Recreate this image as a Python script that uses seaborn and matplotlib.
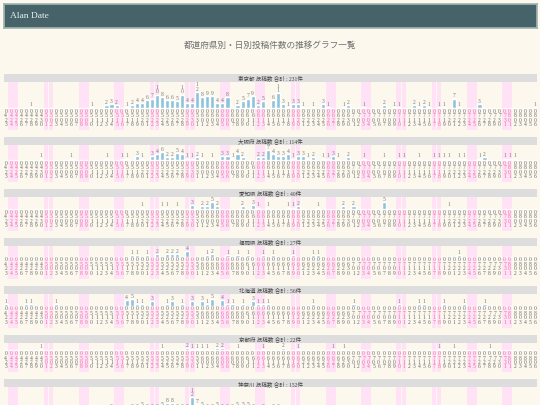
import pandas as pd
import matplotlib.pyplot as plt
import seaborn as sns

sns.set_theme(style="white")
plt.rcParams['font.family'] = ['Liberation Serif', 'Noto Sans CJK JP', 'DejaVu Sans']

# 2010-04-23 .. 2010-08-06, one value per day (rows = 7 days starting on Friday)
dias = pd.date_range("2010-04-23", "2010-08-06", freq="D")

titulo = "都道府県別・日別投稿件数の推移グラフ一覧"
nomes = ["東京都", "大阪府", "愛知県", "福岡県", "北海道", "京都府", "神奈川"]

p1 = [0, 0, 0, 0, 0, 1, 0,
      0, 0, 0, 0, 0, 0, 0,
      0, 0, 0, 1, 0, 0, 2,
      3, 2, 0, 1, 2, 4, 4,
      6, 7, 10, 8, 6, 6, 5,
      10, 4, 4, 12, 8, 9, 9,
      4, 4, 8, 0, 2, 5, 7,
      9, 2, 5, 0, 6, 11, 3,
      1, 3, 3, 1, 0, 1, 0,
      3, 1, 0, 0, 1, 2, 0,
      0, 1, 0, 0, 0, 2, 0,
      1, 1, 0, 0, 2, 1, 2,
      1, 0, 1, 1, 0, 7, 1,
      0, 0, 0, 3, 0, 0, 0,
      0, 0, 0, 0, 0, 0, 0,
      1]
p2 = [0, 0, 0, 0, 0, 0, 0,
      1, 0, 0, 0, 0, 0, 1,
      0, 0, 0, 0, 0, 0, 1,
      0, 0, 1, 1, 0, 3, 1,
      0, 3, 4, 6, 2, 2, 5,
      4, 1, 1, 2, 1, 0, 1,
      0, 3, 3, 1, 4, 2, 0,
      0, 2, 2, 7, 4, 3, 3,
      4, 1, 3, 3, 1, 2, 0,
      1, 1, 3, 1, 0, 2, 0,
      0, 1, 0, 0, 0, 1, 0,
      0, 1, 1, 0, 0, 1, 0,
      0, 1, 1, 1, 1, 0, 1,
      1, 0, 0, 1, 2, 0, 0,
      0, 1, 1, 1, 0, 0, 0,
      0]
p3 = [0, 0, 0, 0, 0, 0, 0,
      0, 0, 0, 0, 0, 0, 0,
      0, 0, 0, 0, 0, 0, 0,
      0, 0, 0, 0, 0, 0, 1,
      0, 0, 0, 1, 1, 0, 1,
      0, 0, 3, 0, 2, 2, 5,
      2, 0, 0, 0, 0, 2, 0,
      3, 1, 0, 1, 0, 0, 0,
      1, 1, 2, 0, 0, 0, 1,
      0, 0, 0, 0, 2, 0, 2,
      0, 0, 0, 0, 0, 5, 0,
      0, 0, 0, 0, 0, 0, 0,
      0, 0, 0, 0, 1, 0, 0,
      0, 0, 0, 0, 0, 0, 0,
      0, 0, 0, 0, 0, 0, 0,
      0]
p4 = [0, 0, 0, 0, 0, 0, 0,
      0, 0, 0, 0, 0, 0, 0,
      0, 0, 0, 0, 0, 0, 0,
      0, 0, 0, 0, 1, 1, 0,
      1, 0, 2, 0, 2, 2, 2,
      0, 4, 0, 0, 0, 1, 2,
      0, 0, 1, 0, 1, 0, 1,
      0, 0, 1, 0, 1, 0, 0,
      0, 1, 0, 0, 0, 1, 1,
      0, 0, 0, 0, 0, 0, 0,
      0, 0, 0, 0, 0, 0, 0,
      0, 0, 0, 0, 0, 0, 0,
      0, 0, 0, 0, 0, 0, 1,
      0, 0, 0, 0, 0, 0, 0,
      0, 0, 0, 0, 0, 0, 0,
      0]
p5 = [1, 0, 0, 0, 1, 1, 0,
      0, 0, 0, 1, 0, 0, 0,
      0, 0, 0, 0, 0, 0, 0,
      0, 0, 0, 4, 5, 1, 1,
      0, 3, 0, 0, 1, 3, 0,
      1, 0, 3, 0, 3, 1, 5,
      0, 4, 1, 1, 0, 1, 0,
      3, 1, 1, 1, 0, 0, 0,
      0, 0, 0, 0, 0, 1, 0,
      0, 0, 0, 0, 0, 0, 1,
      0, 0, 0, 0, 0, 0, 0,
      0, 1, 0, 0, 0, 1, 1,
      0, 0, 0, 1, 0, 0, 0,
      1, 0, 0, 0, 1, 0, 0,
      0, 0, 0, 0, 0, 0, 0,
      0]
p6 = [0, 0, 0, 0, 0, 0, 0,
      1, 0, 0, 0, 0, 0, 0,
      0, 0, 0, 0, 0, 0, 0,
      0, 0, 0, 0, 0, 0, 0,
      0, 0, 0, 1, 0, 0, 0,
      0, 2, 1, 1, 1, 1, 0,
      2, 2, 0, 0, 1, 0, 0,
      0, 0, 1, 0, 0, 0, 2,
      0, 0, 1, 0, 0, 0, 0,
      0, 0, 1, 0, 1, 0, 0,
      0, 0, 0, 0, 0, 0, 0,
      0, 0, 0, 0, 0, 0, 0,
      0, 0, 1, 0, 0, 1, 0,
      0, 0, 0, 0, 0, 1, 0,
      0, 0, 0, 0, 0, 0, 0,
      0]
p7 = [0, 0, 0, 0, 0, 0, 0,
      0, 0, 0, 0, 0, 0, 0,
      0, 0, 0, 0, 0, 0, 2,
      3, 2, 0, 2, 3, 3, 5,
      3, 3, 3, 5, 8, 8, 3,
      3, 3, 12, 7, 5, 3, 3,
      5, 3, 3, 3, 5, 5, 5,
      3, 2, 3, 0, 3, 3, 2,
      2, 2, 2, 1, 1, 2, 0,
      2, 1, 1, 0, 1, 1, 0,
      0, 1, 0, 0, 0, 1, 0,
      0, 0, 0, 0, 0, 0, 0,
      0, 0, 0, 0, 0, 0, 0,
      0, 0, 0, 0, 0, 0, 0,
      0, 0, 0, 0, 0, 0, 0,
      0]
paineis = [p1, p2, p3, p4, p5, p6, p7]

# cores
FUNDO = '#FCF8ED'
CABECALHO = '#46636A'
CINZA = '#DDDDDD'
ROSA = '#FFE2F6'
BARRA = '#8EC3DC'
TXT = '#666666'
TXT_FDS = '#E8669E'

W, H = 540, 405
fig = plt.figure(figsize=(W / 100, H / 100), dpi=100, facecolor=FUNDO)


def eixo(x, y, w, h):
    # posicao em pixels (a partir do topo) -> coordenadas da figura
    return fig.add_axes([x / W, 1 - (y + h) / H, w / W, h / H])


# cabecalho
ax_h = eixo(3.5, 3.5, 533.5, 24)
ax_h.set_facecolor(CABECALHO)
ax_h.set_xticks([])
ax_h.set_yticks([])
for s in ax_h.spines.values():
    s.set_color('#A3B2B2')
ax_h.text(6.5 / 533.5, 0.5, "Alan Date", transform=ax_h.transAxes, va='center', ha='left',
          color='#E9EFEF', fontsize=6.8, family=['Liberation Serif'])

fig.text(0.5, 1 - 46 / H, titulo, ha='center', va='center', fontsize=6.2, color='#6E6E6E')

fds = [d.dayofweek >= 5 for d in dias]
rotulos = ["\n".join(d.strftime("%m%d")) for d in dias]
df_base = pd.DataFrame({'dia': [d.strftime("%m/%d") for d in dias]})

ESC = 1.35  # pixels por contagem
y = 74.0
for nome, vals in zip(nomes, paineis):
    mx = max(vals)
    h_barra = ESC * mx + 4.75 * len(str(mx)) + 0.5
    h_datas = 22

    ax_t = eixo(3.5, y, 533.5, 8)
    ax_t.set_facecolor(CINZA)
    ax_t.set_xticks([])
    ax_t.set_yticks([])
    for s in ax_t.spines.values():
        s.set_visible(False)
    ax_t.text(0.5, 0.45, f"{nome} 投稿数 合計 : {sum(vals)}件", transform=ax_t.transAxes,
              ha='center', va='center', fontsize=4, color='#444444')

    ax = eixo(3.2, y + 8, 534.2, h_barra + h_datas)
    df = df_base.copy()
    df['n'] = vals
    sns.barplot(data=df, x='dia', y='n', ax=ax, color=BARRA, saturation=1,
                width=0.82, errorbar=None)
    ax.set_xlim(-0.5, len(vals) - 0.5)
    ax.set_ylim(-h_datas / ESC, h_barra / ESC)
    ax.axis('off')

    for i, f in enumerate(fds):
        if f:
            ax.axvspan(i - 0.46, i + 0.46, color=ROSA, zorder=0, lw=0)
        ax.text(i, -0.8 / ESC, rotulos[i], ha='center', va='top', fontsize=4,
                linespacing=0.85, color=TXT_FDS if f else TXT)
        if vals[i] > 0:
            ax.text(i, vals[i] + 0.2, "\n".join(str(vals[i])), ha='center', va='bottom',
                    fontsize=4, linespacing=0.85, color='#777777')

    y += 8 + h_barra + h_datas + 7

fig.savefig("out.png", dpi=100, facecolor=FUNDO)
